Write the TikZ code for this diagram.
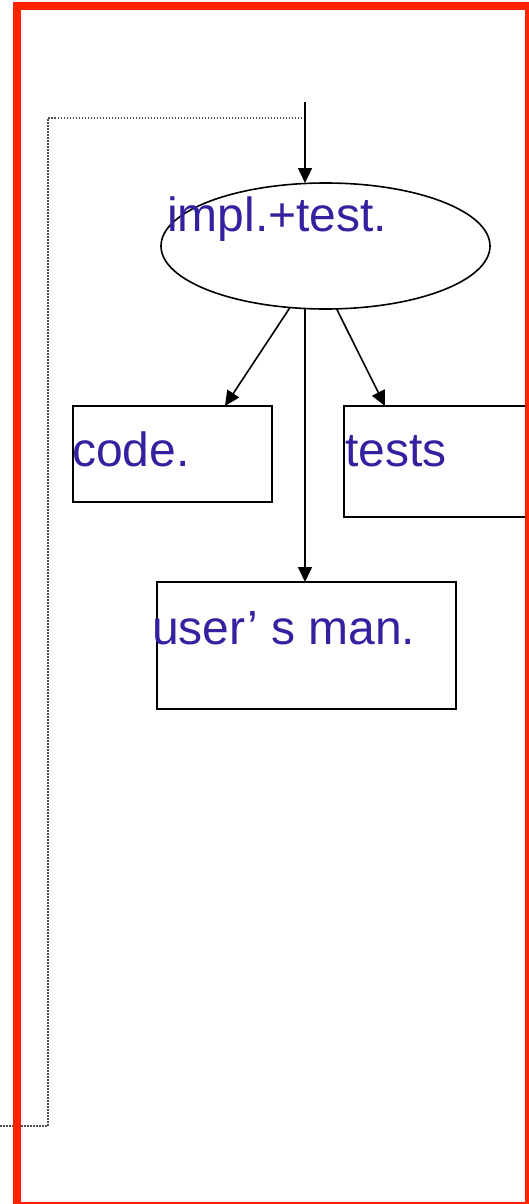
\documentclass[tikz,border=0pt]{standalone}
\usepackage{fontspec}
\setmainfont{Liberation Sans}
\usetikzlibrary{arrows.meta,shapes.geometric}
\definecolor{labelblue}{RGB}{51,34,160}
\definecolor{framered}{RGB}{255,34,0}
\definecolor{loopgray}{RGB}{80,80,80}
\tikzset{
  x=1pt, y=1pt,
  edge/.style={line width=1.6pt, -{Triangle[length=15pt,width=14pt]}},
  boxnode/.style={draw, line width=1.6pt, rectangle, inner sep=0pt, outer sep=0pt},
  ellnode/.style={draw, line width=1.6pt, ellipse, inner sep=0pt, outer sep=0pt},
  lbl/.style={inner sep=0pt, anchor=base west, text=labelblue,
              font=\fontsize{48}{56}\selectfont},
  loopline/.style={draw=loopgray, line width=1.6pt, dash pattern=on 1.5pt off 1.5pt},
  frame/.style={draw=framered, line width=8pt}
}
\begin{document}
\begin{tikzpicture}
\useasboundingbox (0,0) rectangle (529,-1204);

% activity and its products
\node[ellnode, minimum width=329pt, minimum height=126pt] (act) at (325.5,-246) {};
\node[boxnode, minimum width=199pt, minimum height=96pt]  (code)  at (172.5,-454) {};
\node[boxnode, minimum width=183pt, minimum height=111pt] (tests) at (435.5,-461.5) {};
\node[boxnode, minimum width=299pt, minimum height=127pt] (man)   at (306.5,-645.5) {};

% labels
\node[lbl] (actlbl)   at (167,-231) {impl.+test.};
\node[lbl] (codelbl)  at (72,-466)  {code.};
\node[lbl] (testslbl) at (345,-466) {tests};
\node[lbl] (manlbl)   at (152,-644) {user’ s man.};

% incoming flow and feedback loop
\coordinate (in)  at (305,-102);
\coordinate (fb)  at (305,-118);
\coordinate (fbl) at (48,-1126);
\coordinate (fbe) at (0,-1126);
\draw[loopline] (fb) -| (fbl) -- (fbe);
\draw[edge] (in) -- (in |- act.north);

% outputs
\draw[edge] (act.240) -- ([xshift=-47pt]code.north east);
\draw[edge] (act.280) -- ([xshift=41pt]tests.north west);
\draw[edge] ([xshift=-1.5pt]man.north |- act.south) -- ([xshift=-1.5pt]man.north);

% outer frame
\draw[frame] (17,-6) rectangle (529,-1206);
\end{tikzpicture}
\end{document}
